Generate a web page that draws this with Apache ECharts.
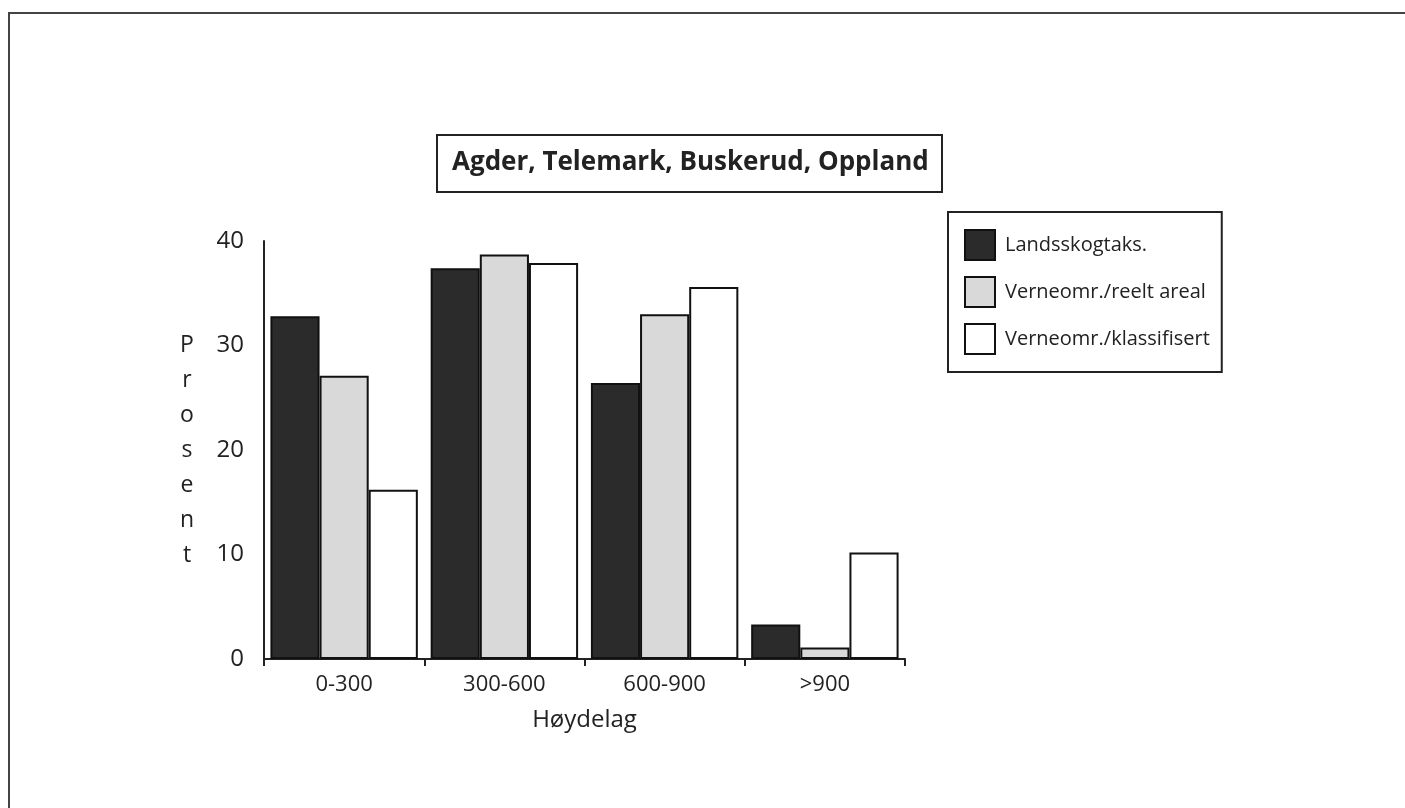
<!DOCTYPE html>
<html>
<head>
<meta charset="utf-8">
<script src="https://cdn.jsdelivr.net/npm/echarts@6/dist/echarts.min.js"></script>
<style>html,body{margin:0;padding:0;background:#fff;}#c{width:1405px;height:808px;}</style>
</head>
<body>
<div id="c"></div>
<script>
const categories = ['0-300', '300-600', '600-900', '>900'];
const seriesNames = ['Landsskogtaks.', 'Verneomr./reelt areal', 'Verneomr./klassifisert'];
const landsskog = [32.8, 37.4, 26.4, 3.3];
const reeltAreal = [27.1, 38.7, 33.0, 1.1];
const klassifisert = [16.2, 37.9, 35.6, 10.2];
const yTicks = [0, 10, 20, 30, 40];

const FONT = '"Open Sans", "Noto Sans", sans-serif';
const INK = '#222';
const fills = ['#2b2b2b', '#d9d9d9', '#ffffff'];
const values = [landsskog, reeltAreal, klassifisert];

const chart = echarts.init(document.getElementById('c'), null, {renderer: 'canvas'});
chart.setOption({
  backgroundColor: '#fff',
  animation: false,
  textStyle: {fontFamily: FONT},
  graphic: [{
    type: 'rect', shape: {x: 9, y: 13, width: 1500, height: 900},
    style: {fill: 'none', stroke: '#444', lineWidth: 2}, silent: true
  }],
  title: {
    text: 'Agder, Telemark, Buskerud, Oppland',
    left: 437, top: 135,
    padding: [15, 14, 16, 15],
    borderColor: INK, borderWidth: 2,
    textStyle: {fontFamily: FONT, fontWeight: 'bold', fontSize: 26, color: INK}
  },
  legend: {
    orient: 'vertical',
    left: 948, top: 212,
    padding: [17, 12, 17, 16],
    itemWidth: 30, itemHeight: 30, itemGap: 15,
    borderColor: INK, borderWidth: 2,
    icon: 'rect',
    textStyle: {fontFamily: FONT, fontSize: 20, color: INK, padding: [0, 0, 0, 5]},
    data: seriesNames
  },
  grid: {left: 264, right: 500, top: 241, bottom: 149, containLabel: false},
  xAxis: {
    type: 'category',
    data: categories,
    name: 'Høydelag',
    nameLocation: 'middle',
    nameGap: 49,
    nameTextStyle: {fontFamily: FONT, fontSize: 24, color: INK},
    axisLine: {lineStyle: {color: INK, width: 2}},
    axisTick: {show: true, length: 7, lineStyle: {color: INK, width: 2}},
    axisLabel: {fontFamily: FONT, fontSize: 22, color: INK, margin: 15}
  },
  yAxis: {
    type: 'value',
    min: yTicks[0], max: yTicks[yTicks.length - 1], interval: 10,
    name: 'Prosent'.split('').join('\n'),
    nameLocation: 'middle',
    nameRotate: 0,
    nameGap: 77,
    nameTextStyle: {fontFamily: FONT, fontSize: 23, color: INK, lineHeight: 35, align: 'center'},
    axisLine: {show: true, lineStyle: {color: INK, width: 2}},
    axisTick: {show: false},
    splitLine: {show: false},
    axisLabel: {fontFamily: FONT, fontSize: 24, color: INK, margin: 20}
  },
  series: seriesNames.map((n, i) => ({
    name: n,
    type: 'bar',
    data: values[i],
    barGap: '0%',
    barCategoryGap: '8%',
    itemStyle: {color: fills[i], borderColor: '#111', borderWidth: 2}
  }))
});
</script>
</body>
</html>
